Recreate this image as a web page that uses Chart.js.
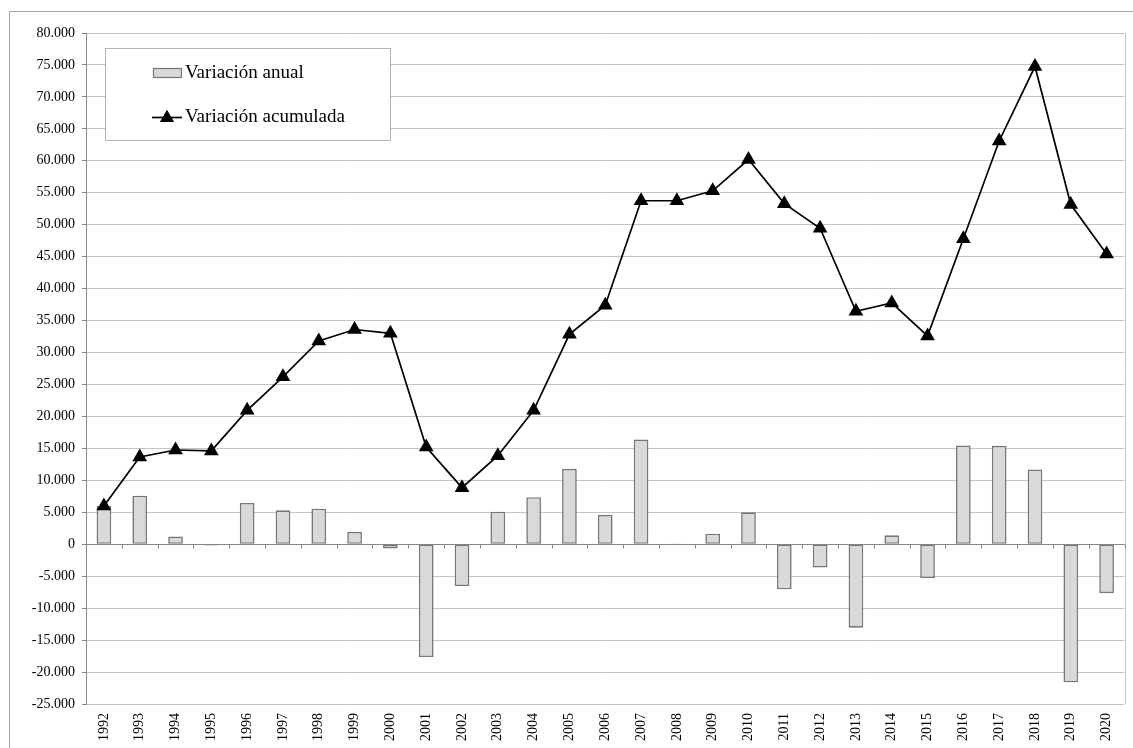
<!DOCTYPE html>
<html>
<head>
<meta charset="utf-8">
<script src="https://cdn.jsdelivr.net/npm/chart.js@4.4.1/dist/chart.umd.min.js"></script>
<style>
  html, body { margin: 0; padding: 0; background: #fff; }
  #wrap { width: 1133px; height: 748px; position: relative; }
</style>
</head>
<body>
<div id="wrap"><canvas id="chart" width="1133" height="748"></canvas></div>
<script>
// Years on the category axis
const years = ['1992','1993','1994','1995','1996','1997','1998','1999','2000','2001',
               '2002','2003','2004','2005','2006','2007','2008','2009','2010','2011',
               '2012','2013','2014','2015','2016','2017','2018','2019','2020'];

// Yearly change (bars)
const annualChange = [6000, 7600, 1200, -200, 6450, 5300, 5550, 1950, -650, -17650,
                      -6550, 5100, 7350, 11800, 4600, 16400, 100, 1650, 5000, -7050,
                      -3650, -13050, 1400, -5300, 15450, 15400, 11700, -21600, -7650];

// Running total (line with triangle markers)
const cumulativeChange = [6000, 13650, 14750, 14600, 20950, 26200, 31800, 33600, 33000, 15200,
                          8850, 13850, 20950, 32850, 37400, 53750, 53750, 55300, 60200, 53300,
                          49450, 36450, 37750, 32600, 47800, 63100, 74750, 53150, 45400];

// Value axis range and step
const yMin = -25000;
const yMax = 80000;
const yStep = 5000;

const seriesLabels = ['Variación anual', 'Variación acumulada'];

const serif = '"Liberation Serif", "Times New Roman", serif';

// Thousands with a dot separator: 15000 -> 15.000
function formatThousands(v) {
  const s = Math.abs(v).toString().replace(/\B(?=(\d{3})+(?!\d))/g, '.');
  return (v < 0 ? '-' : '') + s;
}

// Outer frame, right edge of the plot, and the zero axis with its tick marks
const framePlugin = {
  id: 'frameAndZeroAxis',
  beforeDatasetsDraw(chart) {
    const { ctx, chartArea } = chart;
    ctx.save();
    ctx.strokeStyle = '#c4c4c4';
    ctx.lineWidth = 1;
    ctx.beginPath();
    ctx.moveTo(Math.round(chartArea.right) + 0.5, chartArea.top);
    ctx.lineTo(Math.round(chartArea.right) + 0.5, chartArea.bottom);
    ctx.stroke();
    ctx.restore();
  },
  afterDatasetsDraw(chart) {
    const { ctx, chartArea, scales } = chart;
    const x = scales.x, y = scales.y;
    const y0 = Math.round(y.getPixelForValue(0)) + 0.5;
    ctx.save();
    ctx.strokeStyle = '#868686';
    ctx.lineWidth = 1;
    ctx.beginPath();
    ctx.moveTo(chartArea.left, y0);
    ctx.lineTo(chartArea.right, y0);
    const n = chart.data.labels.length;
    for (let i = 1; i <= n; i++) {
      const bx = i < n
        ? (x.getPixelForValue(i - 1) + x.getPixelForValue(i)) / 2
        : chartArea.right;
      const px = Math.round(bx) + 0.5;
      ctx.moveTo(px, y0);
      ctx.lineTo(px, y0 + 4);
    }
    ctx.stroke();
    ctx.restore();
  },
  afterDraw(chart) {
    const { ctx } = chart;
    ctx.save();
    ctx.strokeStyle = '#a6a6a6';
    ctx.lineWidth = 1;
    ctx.beginPath();
    ctx.moveTo(9.5, 748);
    ctx.lineTo(9.5, 11.5);
    ctx.lineTo(1133, 11.5);
    ctx.stroke();
    ctx.restore();
  }
};

// Boxed legend inside the plot, upper left
const legendBoxPlugin = {
  id: 'legendBox',
  afterDraw(chart) {
    const { ctx } = chart;
    const barDs = chart.data.datasets[0];
    const lineDs = chart.data.datasets[1];
    ctx.save();
    ctx.fillStyle = '#ffffff';
    ctx.fillRect(105.5, 48.5, 285, 92);
    ctx.strokeStyle = '#b4b4b4';
    ctx.lineWidth = 1;
    ctx.strokeRect(105.5, 48.5, 285, 92);

    ctx.font = '19px ' + serif;
    ctx.textBaseline = 'middle';
    ctx.textAlign = 'left';

    // bar swatch
    ctx.fillStyle = barDs.backgroundColor;
    ctx.fillRect(153.5, 68.5, 28, 9);
    ctx.strokeStyle = barDs.borderColor;
    ctx.lineWidth = 1.2;
    ctx.strokeRect(153.5, 68.5, 28, 9);
    ctx.fillStyle = '#000';
    ctx.fillText(barDs.label, 185, 73);

    // line swatch
    ctx.strokeStyle = lineDs.borderColor;
    ctx.lineWidth = lineDs.borderWidth;
    ctx.beginPath();
    ctx.moveTo(152, 117.5);
    ctx.lineTo(182, 117.5);
    ctx.stroke();
    ctx.fillStyle = '#000';
    Chart.helpers.drawPoint(ctx, { pointStyle: 'triangle', radius: 8, rotation: 0, borderWidth: 0 }, 167, 118);
    ctx.fill();
    ctx.fillText(lineDs.label, 185, 117);
    ctx.restore();
  }
};

new Chart(document.getElementById('chart'), {
  type: 'bar',
  data: {
    labels: years,
    datasets: [
      {
        type: 'bar',
        label: seriesLabels[0],
        data: annualChange,
        backgroundColor: '#d9d9d9',
        borderColor: '#777777',
        borderWidth: 1.6,
        borderSkipped: false,
        barPercentage: 0.41,
        categoryPercentage: 1,
        order: 1
      },
      {
        type: 'line',
        label: seriesLabels[1],
        data: cumulativeChange,
        borderColor: '#000000',
        borderWidth: 1.7,
        pointStyle: 'triangle',
        pointRadius: 8.5,
        pointHoverRadius: 8.5,
        pointBackgroundColor: '#000000',
        pointBorderColor: '#000000',
        pointBorderWidth: 0,
        tension: 0,
        fill: false,
        order: 0
      }
    ]
  },
  options: {
    responsive: false,
    animation: false,
    layout: { padding: { left: 0, top: 33, right: 7, bottom: 0 } },
    plugins: {
      legend: { display: false },
      tooltip: { enabled: false }
    },
    scales: {
      x: {
        offset: true,
        grid: { display: false, drawTicks: false },
        border: { display: false },
        ticks: {
          autoSkip: false,
          minRotation: 90,
          maxRotation: 90,
          padding: 9,
          color: '#000',
          font: { family: serif, size: 14 }
        },
        afterFit(scale) { scale.height = 44; }
      },
      y: {
        min: yMin,
        max: yMax,
        ticks: {
          stepSize: yStep,
          padding: 7,
          color: '#000',
          font: { family: serif, size: 14 },
          callback: (v) => formatThousands(v)
        },
        grid: {
          color: (c) => (c.tick && c.tick.value === 0 ? '#868686' : '#c4c4c4'),
          tickColor: '#868686',
          tickLength: 4,
          lineWidth: 1
        },
        border: { color: '#868686', width: 1 },
        afterFit(scale) { scale.width = 86; }
      }
    }
  },
  plugins: [framePlugin, legendBoxPlugin]
});
</script>
</body>
</html>
